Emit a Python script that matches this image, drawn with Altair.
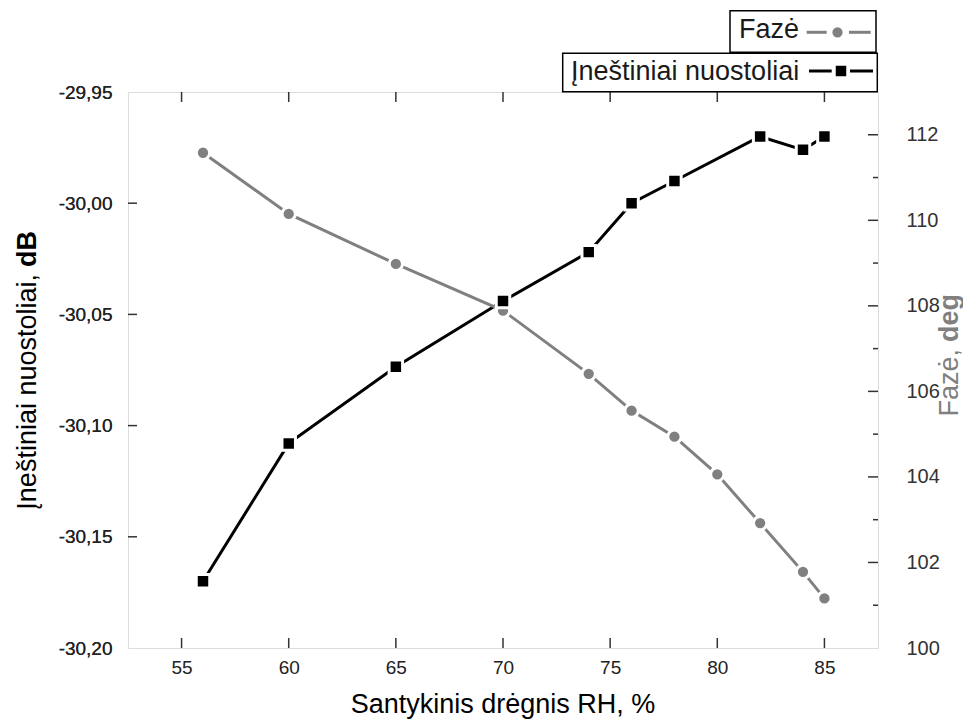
import altair as alt
import pandas as pd

# ---------------- data ----------------
rh_loss = [56, 60, 65, 70, 74, 76, 78, 82, 84, 85]
loss_db = [-30.170, -30.108, -30.0735, -30.044, -30.022, -30.000, -29.990, -29.970, -29.976, -29.970]

rh_phase = [56, 60, 65, 70, 74, 76, 78, 80, 82, 84, 85]
phase_deg = [111.58, 110.15, 108.98, 107.89, 106.41, 105.55, 104.94, 104.06, 102.92, 101.78, 101.16]

x_ticks = [55, 60, 65, 70, 75, 80, 85]
left_ticks = [-30.20, -30.15, -30.10, -30.05, -30.00, -29.95]
left_inner_ticks = [-30.15, -30.10, -30.05, -30.00]
right_ticks = [100, 102, 104, 106, 108, 110, 112]
right_inner_major = [102, 104, 106, 108, 110, 112]
right_inner_minor = [101, 103, 105, 107, 109, 111]

x_title = "Santykinis drėgnis RH, %"
left_title = "Įneštiniai nuostoliai,"
left_title_bold = "dB"
right_title = "Fazė,"
right_title_bold = "deg"
legend_phase = "Fazė"
legend_loss = "Įneštiniai nuostoliai"

# ---------------- style ----------------
W, H = 750, 556
GRAY = "#808080"
FONT = "Liberation Sans"
TICK_COL = "#333333"
TTL = 27

df_loss = pd.DataFrame({"rh": rh_loss, "loss": loss_db})
df_phase = pd.DataFrame({"rh": rh_phase, "phase": phase_deg})

xs = alt.Scale(domain=[52.5, 87.5], nice=False, zero=False)
ysl = alt.Scale(domain=[-30.20, -29.95], nice=False, zero=False)
ysr = alt.Scale(domain=[100, 113], nice=False, zero=False)

x_axis = alt.Axis(values=x_ticks, tickSize=0, domain=False, grid=False, title=None,
                  labelPadding=10, labelFontSize=19, labelFont=FONT, labelColor="#222222",
                  labelFlush=False, format="d")
yl_axis = alt.Axis(orient="left", values=left_ticks, tickSize=0, domain=False, grid=False, title=None,
                   labelPadding=16, labelFontSize=19, labelFont=FONT, labelColor="#222222",
                   labelFlush=False,
                   labelExpr="replace(replace(format(datum.value, '.2f'), '.', ','), '\u2212', '-')")
yr_axis = alt.Axis(orient="right", values=right_ticks, tickSize=0, domain=False, grid=False, title=None,
                   labelPadding=28, labelFontSize=20, labelFont=FONT, labelColor="#333333",
                   labelFlush=False, format="d")

X = alt.X("rh:Q", scale=xs, axis=x_axis)
YL = alt.Y("loss:Q", scale=ysl, axis=yl_axis)
YR = alt.Y("phase:Q", scale=ysr, axis=yr_axis)

# ---- loss series (left axis) ----
bl = alt.Chart(df_loss)
loss_line = bl.mark_line(color="black", strokeWidth=3).encode(x=X, y=YL)
loss_pts = bl.mark_point(shape="square", filled=True, fill="black", stroke="white", strokeWidth=3,
                         size=182, opacity=1).encode(x=X, y=YL)

lt = alt.Chart(pd.DataFrame({"loss": left_inner_ticks})).mark_rule(color=TICK_COL, strokeWidth=1.5).encode(
    y=YL, x=alt.value(0), x2=alt.value(9))
xt_df = pd.DataFrame({"rh": x_ticks})
xt_bottom = alt.Chart(xt_df).mark_rule(color=TICK_COL, strokeWidth=1.5).encode(
    x=X, y=alt.value(H), y2=alt.value(H - 10))
xt_top = alt.Chart(xt_df).mark_rule(color=TICK_COL, strokeWidth=1.5).encode(
    x=X, y=alt.value(0), y2=alt.value(10))

# ---- phase series (right axis) ----
bp = alt.Chart(df_phase)
phase_line = bp.mark_line(color=GRAY, strokeWidth=3).encode(x=X, y=YR)
phase_pts = bp.mark_point(shape="circle", filled=True, fill=GRAY, stroke="white", strokeWidth=3,
                          size=177, opacity=1).encode(x=X, y=YR)
rt_major = alt.Chart(pd.DataFrame({"phase": right_inner_major})).mark_rule(color=TICK_COL, strokeWidth=1.5).encode(
    y=YR, x=alt.value(W), x2=alt.value(W - 10))
rt_minor = alt.Chart(pd.DataFrame({"phase": right_inner_minor})).mark_rule(color=TICK_COL, strokeWidth=1.5).encode(
    y=YR, x=alt.value(W), x2=alt.value(W - 5))

left = alt.layer(loss_line, lt, xt_bottom, xt_top)
right = alt.layer(phase_line, rt_major, rt_minor, phase_pts)
left_marks = alt.layer(loss_pts)

# ---- titles & legend (decoration) ----
one = alt.Chart(alt.InlineData(values=[{"k": 1}]))

def txt(s, x, y, size=TTL, color="black", weight="normal", align="left"):
    return one.mark_text(text=s, font=FONT, fontSize=size, color=color, fontWeight=weight,
                         align=align, baseline="alphabetic").encode(x=alt.value(x), y=alt.value(y))

def vtxt(s, x, y, color="black", weight="normal", align="left", dx=0):
    return one.mark_text(text=s, font=FONT, fontSize=TTL, color=color, fontWeight=weight,
                         align=align, baseline="middle", angle=270, dx=dx).encode(
        x=alt.value(x), y=alt.value(y))

titles = alt.layer(
    txt(x_title, 375, 621, align="center"),
    vtxt(left_title, -100, 182, align="right"),
    vtxt(left_title_bold, -100, 182, weight="bold", align="left", dx=7),
    vtxt(right_title, 822, 257, color=GRAY, align="right"),
    vtxt(right_title_bold, 822, 257, color=GRAY, weight="bold", align="left", dx=7),
)

def box(x1, x2, y1, y2):
    return one.mark_rect(fill="white", stroke="black", strokeWidth=1.5).encode(
        x=alt.value(x1), x2=alt.value(x2), y=alt.value(y1), y2=alt.value(y2))

def seg(x1, x2, y, color):
    return one.mark_rule(color=color, strokeWidth=3).encode(x=alt.value(x1), x2=alt.value(x2), y=alt.value(y))

legend = alt.layer(
    box(602, 748, -81.3, -39.7),
    txt(legend_phase, 611, -53.7, color="#1a1a1a"),
    seg(678.7, 698.7, -59.7, GRAY),
    seg(721, 742.7, -59.7, GRAY),
    one.mark_point(shape="circle", filled=True, fill=GRAY, stroke="white", strokeWidth=3,
                   size=177, opacity=1).encode(x=alt.value(709.5), y=alt.value(-59.7)),
    box(434.7, 749.3, -38.7, -0.3),
    txt(legend_loss, 443, -12, color="#1a1a1a"),
    seg(681, 703.7, -21, "black"),
    seg(722, 745, -21, "black"),
    one.mark_point(shape="square", filled=True, fill="black", stroke="white", strokeWidth=3,
                   size=182, opacity=1).encode(x=alt.value(713), y=alt.value(-21)),
)

chart = alt.layer(
    left, right, left_marks, titles, legend
).resolve_scale(y="independent").properties(
    width=W, height=H,
    autosize=alt.AutoSizeParams(type="none"),
    padding={"left": 120, "top": 84, "right": 85, "bottom": 72},
).configure_view(stroke="#2b2b2b", strokeWidth=2).configure(background="white")

chart.save("out.html", embed_options={"renderer": "svg", "actions": False})
